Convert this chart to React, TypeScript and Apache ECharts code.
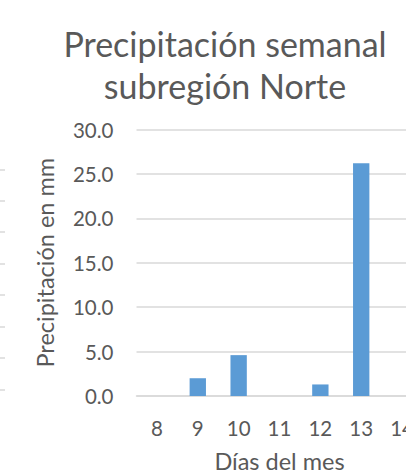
import React, { useEffect, useRef } from "react";
import * as echarts from "echarts";

const days = ["8", "9", "10", "11", "12", "13", "14"];
const precipitation = [0, 2.0, 4.6, 0, 1.3, 26.2, 0];
const yTicks = { min: 0, max: 30, interval: 5 };
const titleLines = ["Precipitación semanal", "subregión Norte"];
const yName = "Precipitación en mm";
const xName = "Días del mes";
const strayTickYs = [170, 201, 232, 264, 295, 327, 358, 390];

const FONT = "Lato";
const TEXT = "#595959";
const GRID = "#d9d9d9";

export default function App() {
  const ref = useRef<HTMLDivElement>(null);
  useEffect(() => {
    if (!ref.current) return;
    const chart = echarts.init(ref.current, null, { renderer: "svg" });
    chart.setOption({
      animation: false,
      backgroundColor: "#ffffff",
      textStyle: { fontFamily: FONT },
      grid: {
        left: 136.5,
        right: 17.5,
        top: 129.5,
        bottom: 77,
        containLabel: false,
        outerBoundsMode: "none",
      },
      xAxis: {
        type: "category",
        data: days,
        name: xName,
        nameLocation: "middle",
        nameGap: 53,
        nameTextStyle: { color: TEXT, fontSize: 23.5, fontFamily: FONT },
        axisLine: { show: true, lineStyle: { color: GRID, width: 1.5 } },
        axisTick: { show: false },
        axisLabel: { color: TEXT, fontSize: 20.5, margin: 21, fontFamily: FONT },
      },
      yAxis: {
        type: "value",
        min: yTicks.min,
        max: yTicks.max,
        interval: yTicks.interval,
        name: yName,
        nameLocation: "middle",
        nameGap: 80,
        nameTextStyle: { color: TEXT, fontSize: 23.5, fontFamily: FONT },
        axisLine: { show: false },
        axisTick: { show: false },
        splitLine: { lineStyle: { color: GRID, width: 1.5 } },
        axisLabel: {
          color: TEXT,
          fontSize: 20.5,
          margin: 23,
          fontFamily: FONT,
          formatter: (v: number) => v.toFixed(1),
        },
      },
      series: [
        {
          type: "bar",
          data: precipitation,
          barWidth: "40%",
          itemStyle: { color: "#5b9bd5" },
        },
      ],
      graphic: [
        ...titleLines.map((t, i) => ({
          type: "text",
          x: 225,
          y: 43 + i * 42,
          style: {
            text: t,
            fill: TEXT,
            font: `34px ${FONT}`,
            align: "center",
            verticalAlign: "middle",
          },
        })),
        ...strayTickYs.map((y) => ({
          type: "line",
          shape: { x1: 0, y1: y, x2: 5, y2: y },
          style: { stroke: GRID, lineWidth: 1.5 },
        })),
      ],
    });
    return () => chart.dispose();
  }, []);
  return (
    <div
      style={{
        position: "fixed",
        left: 0,
        top: 0,
        width: 406,
        height: 473,
        overflow: "hidden",
        background: "#fff",
      }}
    >
      <div ref={ref} style={{ width: 440, height: 473 }} />
    </div>
  );
}
